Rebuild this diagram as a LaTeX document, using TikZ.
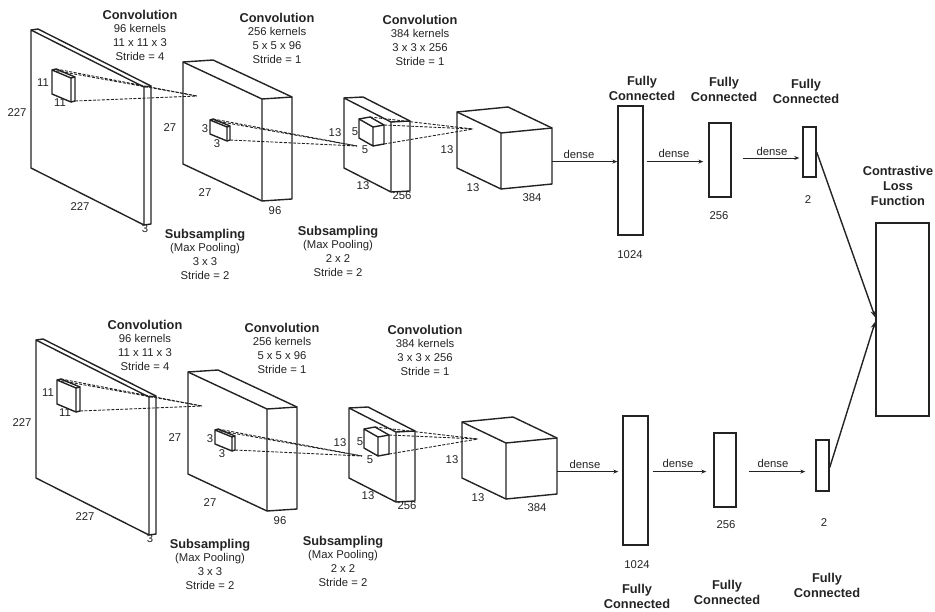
\documentclass[tikz,border=0pt]{standalone}
\usepackage{fontspec}
\setmainfont{Liberation Sans}
\usetikzlibrary{calc,arrows.meta}
\definecolor{ink}{RGB}{35,35,35}
\newcommand\hd[1]{{\fontsize{12.8}{13.7}\selectfont\bfseries #1}}
\newcommand\mycuboid[5]{%
  \path (#2) coordinate (#1-a) ++(#3) coordinate (#1-b) ++(#4) coordinate (#1-c) ++(#5) coordinate (#1-g);
  \path (#1-a) ++(#4) coordinate (#1-d);
  \path (#1-a) ++(#5) coordinate (#1-e);
  \path (#1-b) ++(#5) coordinate (#1-f);
  \draw[edge] (#1-a) -- (#1-b) -- (#1-c) -- (#1-d) -- cycle;
  \draw[edge] (#1-b) -- (#1-f) -- (#1-g) -- (#1-c);
  \draw[edge] (#1-a) -- (#1-e) -- (#1-f);
}
\tikzset{
  edge/.style={draw=ink, line width=1.4pt, line join=round},
  kdash/.style={draw=ink, line width=0.9pt, dash pattern=on 3pt off 1.5pt},
  blk/.style={align=center, inner sep=0pt, text=ink, font=\fontsize{11.3}{13.7}\selectfont},
  num/.style={inner sep=0pt, text=ink, font=\fontsize{11.3}{13}\selectfont},
  fcl/.style={align=center, inner sep=0pt, text=ink, font=\fontsize{12.8}{15}\selectfont\bfseries},
  fc/.style={draw=ink, line width=1.4pt, inner sep=0pt, fill=white},
  arr/.style={draw=ink, line width=1pt, -{Stealth[length=5pt,width=4pt]}},
  bigarr/.style={draw=ink, line width=1.4pt, -{Stealth[length=7pt,width=5pt]}}
}
\begin{document}
\begin{tikzpicture}[x=1pt, y=-1pt]
\useasboundingbox (0,0) rectangle (935,611);
\foreach \r/\sx/\sy in {t/0/0, b/5/310}{
\begin{scope}[shift={(\sx,\sy)}]
  % volumes
  \mycuboid{b1\r}{31,30}{113,57}{0,138}{7,-1}
  \mycuboid{b2\r}{183,62}{79,37}{0,102}{30,-2}
  \mycuboid{b3\r}{344,98}{47,24}{0,70}{19,-1}
  \mycuboid{b4\r}{457,112}{44,21}{0,56}{51,-5}
  % kernels
  \mycuboid{k1\r}{52,70}{19,8}{0,24}{4,-1}
  \mycuboid{k2\r}{210,120}{17,7}{0,14}{3,-1}
  \mycuboid{k3\r}{359,119}{14,8}{0,19}{11,-2}
  % convergence points
  \coordinate (t1\r) at (197,96);
  \coordinate (t2\r) at (357,146);
  \coordinate (t3\r) at (473,129);
  \draw[kdash] (k1\r-a) -- (t1\r);
  \draw[kdash] (k1\r-e) -- (t1\r);
  \draw[kdash] (k1\r-g) -- (t1\r);
  \draw[kdash] (k2\r-a) -- (t2\r);
  \draw[kdash] (k2\r-e) -- (t2\r);
  \draw[kdash] (k2\r-g) -- (t2\r);
  \draw[kdash] (k3\r-e) -- (t3\r);
  \draw[kdash] (k3\r-f) -- (t3\r);
  \draw[kdash] (k3\r-g) -- (t3\r);
  % dimension labels
  \node[num] (n227a\r) at (17,113) {227};
  \node[num] (n227b\r) at (80,207) {227};
  \node[num] (n3a\r) at (145,229) {3};
  \node[num] (n11a\r) at (43,83) {11};
  \node[num] (n11b\r) at (60,103) {11};
  \node[num] (n27a\r) at (170,128) {27};
  \node[num] (n3b\r) at (205,129) {3};
  \node[num] (n3c\r) at (217,144) {3};
  \node[num] (n27b\r) at (205,193) {27};
  \node[num] (n96\r) at (275,211) {96};
  \node[num] (n13a\r) at (335,133) {13};
  \node[num] (n5a\r) at (355,132) {5};
  \node[num] (n5b\r) at (365,150) {5};
  \node[num] (n13b\r) at (363,186) {13};
  \node[num] (n256\r) at (402,196) {256};
  \node[num] (n13c\r) at (447,150) {13};
  \node[num] (n13d\r) at (473,188) {13};
  \node[num] (n384\r) at (532,198) {384};
  % layer descriptions
  \node[blk] (conv1\r) at (140,35) {\hd{Convolution}\\96 kernels\\11 x 11 x 3\\Stride = 4};
  \node[blk] (conv2\r) at (277,38) {\hd{Convolution}\\256 kernels\\5 x 5 x 96\\Stride = 1};
  \node[blk] (conv3\r) at (420,40) {\hd{Convolution}\\384 kernels\\3 x 3 x 256\\Stride = 1};
  \node[blk] (pool1\r) at (205,254) {\hd{Subsampling}\\(Max Pooling)\\3 x 3\\Stride = 2};
  \node[blk] (pool2\r) at (338,251) {\hd{Subsampling}\\(Max Pooling)\\2 x 2\\Stride = 2};
  % exit point of last volume
  \coordinate (out\r) at ($(b4\r-f)!0.6!(b4\r-g)$);
\end{scope}
}
% fully connected layers, top branch
\node[fc, minimum width=25pt, minimum height=129pt] (fc1t) at (630.5,170.5) {};
\node[fc, minimum width=22pt, minimum height=74pt] (fc2t) at (720,160) {};
\node[fc, minimum width=13pt, minimum height=50pt] (fc3t) at (809.5,152) {};
% fully connected layers, bottom branch
\node[fc, minimum width=25pt, minimum height=129pt] (fc1b) at (635.5,480.5) {};
\node[fc, minimum width=22pt, minimum height=74pt] (fc2b) at (725,470) {};
\node[fc, minimum width=13pt, minimum height=51pt] (fc3b) at (822.5,465.5) {};
% loss
\node[fc, minimum width=53pt, minimum height=193pt] (loss) at (902.5,319.5) {};
\node[fcl] (losslbl) at (898,185.5) {Contrastive\\Loss\\Function};
% FC labels
\node[fcl] (fcl1t) at (642,88) {Fully\\Connected};
\node[fcl] (fcl2t) at (724,89) {Fully\\Connected};
\node[fcl] (fcl3t) at (806,91) {Fully\\Connected};
\node[fcl] (fcl1b) at (637,596) {Fully\\Connected};
\node[fcl] (fcl2b) at (727,592) {Fully\\Connected};
\node[fcl] (fcl3b) at (827,585) {Fully\\Connected};
\node[num] (s1024t) at (630,255) {1024};
\node[num] (s256t) at (719,216) {256};
\node[num] (s2t) at (808,200) {2};
\node[num] (s1024b) at (637,565) {1024};
\node[num] (s256b) at (726,525) {256};
\node[num] (s2b) at (824,523) {2};
% dense arrows top
\coordinate (a2t) at (fc1t.east |- outt);
\coordinate (a3t) at ([yshift=2pt]fc2t.east);
\draw[arr] (outt) -- (outt -| fc1t.west);
\draw[arr, shorten <=3pt, shorten >=5pt] (a2t) -- (a2t -| fc2t.west);
\draw[arr, shorten <=11pt, shorten >=3pt] (a3t) -- (a3t -| fc3t.west);
\node[num] (d1t) at (579,154) {dense};
\node[num] (d2t) at (674,153) {dense};
\node[num] (d3t) at (772,151) {dense};
% dense arrows bottom
\coordinate (a2b) at (fc1b.east |- outb);
\coordinate (a3b) at (fc2b.east |- outb);
\draw[arr, shorten >=4pt] (outb) -- (outb -| fc1b.west);
\draw[arr, shorten <=4pt, shorten >=7pt] (a2b) -- (a2b -| fc2b.west);
\draw[arr, shorten <=12pt, shorten >=10pt] (a3b) -- (a3b -| fc3b.west);
\node[num] (d1b) at (585,464) {dense};
\node[num] (d2b) at (678,463) {dense};
\node[num] (d3b) at (773,463) {dense};
% to loss
\draw[bigarr] (fc3t.east) -- ([yshift=2pt]loss.west);
\draw[bigarr] ([yshift=-2pt]fc3b.east) -- ([yshift=-2pt]loss.west);
\end{tikzpicture}
\end{document}
